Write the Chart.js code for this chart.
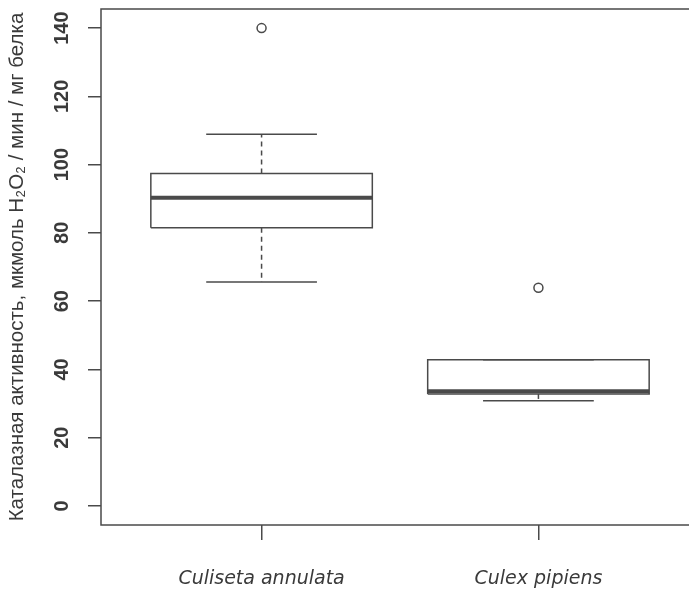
<!DOCTYPE html>
<html>
<head>
<meta charset="utf-8">
<script src="https://cdn.jsdelivr.net/npm/chart.js@4"></script>
<style>
  html, body { margin: 0; padding: 0; background: #fff; overflow: hidden; }
  #wrap { width: 689px; height: 592px; overflow: hidden; position: relative; }
  #chart { position: absolute; left: 0; top: 0; }
</style>
</head>
<body>
<div id="wrap"><canvas id="chart" width="712" height="592"></canvas></div>
<script>
// boxplot stats
const categories = ['Culiseta annulata', 'Culex pipiens'];
const whiskerLow = [65.6, 30.8];
const q1 = [81.5, 32.8];
const median = [90.3, 33.6];
const q3 = [97.4, 42.8];
const whiskerHigh = [108.9, 42.8];
const outliers = [[140], [63.9]];
const yTicks = [0, 20, 40, 60, 80, 100, 120, 140];

const lineColor = '#4a4a4a';
const textColor = '#3a3a3a';
const sans = "'Liberation Sans', Arial, sans-serif";

function seg(points, width, dash) {
    return {
        data: points,
        showLine: true,
        borderColor: lineColor,
        borderWidth: width,
        borderDash: dash || [],
        pointRadius: 0,
        fill: false
    };
}

const datasets = [];
categories.forEach((name, i) => {
    const c = i + 1;
    const half = 0.4, cap = 0.2;
    datasets.push(seg([
        {x: c, y: q3[i]}, {x: c, y: whiskerHigh[i]}
    ], 1.5, [5, 4]));
    datasets.push(seg([
        {x: c, y: q1[i]}, {x: c, y: whiskerLow[i]}
    ], 1.5, [5, 4]));
    datasets.push(seg([
        {x: c - cap, y: whiskerHigh[i]}, {x: c + cap, y: whiskerHigh[i]}
    ], 1.5));
    datasets.push(seg([
        {x: c - cap, y: whiskerLow[i]}, {x: c + cap, y: whiskerLow[i]}
    ], 1.5));
    datasets.push(seg([
        {x: c - half, y: q1[i]}, {x: c + half, y: q1[i]},
        {x: c + half, y: q3[i]}, {x: c - half, y: q3[i]},
        {x: c - half, y: q1[i]}
    ], 1.5));
    datasets.push(seg([
        {x: c - half, y: median[i]}, {x: c + half, y: median[i]}
    ], 4));
});
datasets.push({
    data: outliers.flatMap((vals, i) => vals.map(v => ({x: i + 1, y: v}))),
    showLine: false,
    pointRadius: 4.5,
    pointBorderWidth: 1.5,
    pointBackgroundColor: 'rgba(0,0,0,0)',
    pointBorderColor: lineColor
});

// R draws a full frame around the plot region
const frame = {
    id: 'frame',
    afterDatasetsDraw(chart) {
        const {ctx, chartArea} = chart;
        ctx.save();
        ctx.strokeStyle = lineColor;
        ctx.lineWidth = 1.5;
        ctx.strokeRect(chartArea.left, chartArea.top, chartArea.right - chartArea.left, chartArea.bottom - chartArea.top);
        ctx.restore();
    }
};

function noPad(axis) {
    axis.paddingTop = 0;
    axis.paddingBottom = 0;
    axis.paddingLeft = 0;
    axis.paddingRight = 0;
}

new Chart(document.getElementById('chart'), {
    type: 'scatter',
    data: { datasets },
    options: {
        responsive: false,
        animation: false,
        layout: { padding: { top: 9, right: 13, left: 0, bottom: 0 } },
        plugins: { legend: { display: false }, tooltip: { enabled: false } },
        scales: {
            x: {
                type: 'linear',
                min: 0.42,
                max: 2.58,
                afterBuildTicks: axis => { axis.ticks = categories.map((n, i) => ({value: i + 1})); },
                afterFit: axis => { axis.height = 67; noPad(axis); },
                grid: { drawOnChartArea: false, drawTicks: true, tickLength: 15, color: lineColor, lineWidth: 1.5 },
                border: { display: false },
                ticks: {
                    padding: 28,
                    color: textColor,
                    maxRotation: 0,
                    font: { family: 'DejaVu Sans', size: 19, style: 'italic' },
                    callback: v => categories[v - 1]
                }
            },
            y: {
                min: -5.6,
                max: 145.6,
                afterBuildTicks: axis => { axis.ticks = yTicks.map(v => ({value: v})); },
                afterFit: axis => { axis.width = 101; noPad(axis); },
                grid: { drawOnChartArea: false, drawTicks: true, tickLength: 13, color: lineColor, lineWidth: 1.5 },
                border: { display: false },
                ticks: {
                    minRotation: 90,
                    maxRotation: 90,
                    crossAlign: 'center',
                    padding: 9,
                    color: textColor,
                    font: { family: sans, size: 20, weight: 'bold' }
                },
                title: {
                    display: true,
                    text: 'Каталазная активность, мкмоль H\u2082O\u2082 / мин / мг белка',
                    color: textColor,
                    padding: { top: 5, bottom: 0 },
                    font: { family: sans, size: 20.5 }
                }
            }
        }
    },
    plugins: [frame]
});
</script>
</body>
</html>
